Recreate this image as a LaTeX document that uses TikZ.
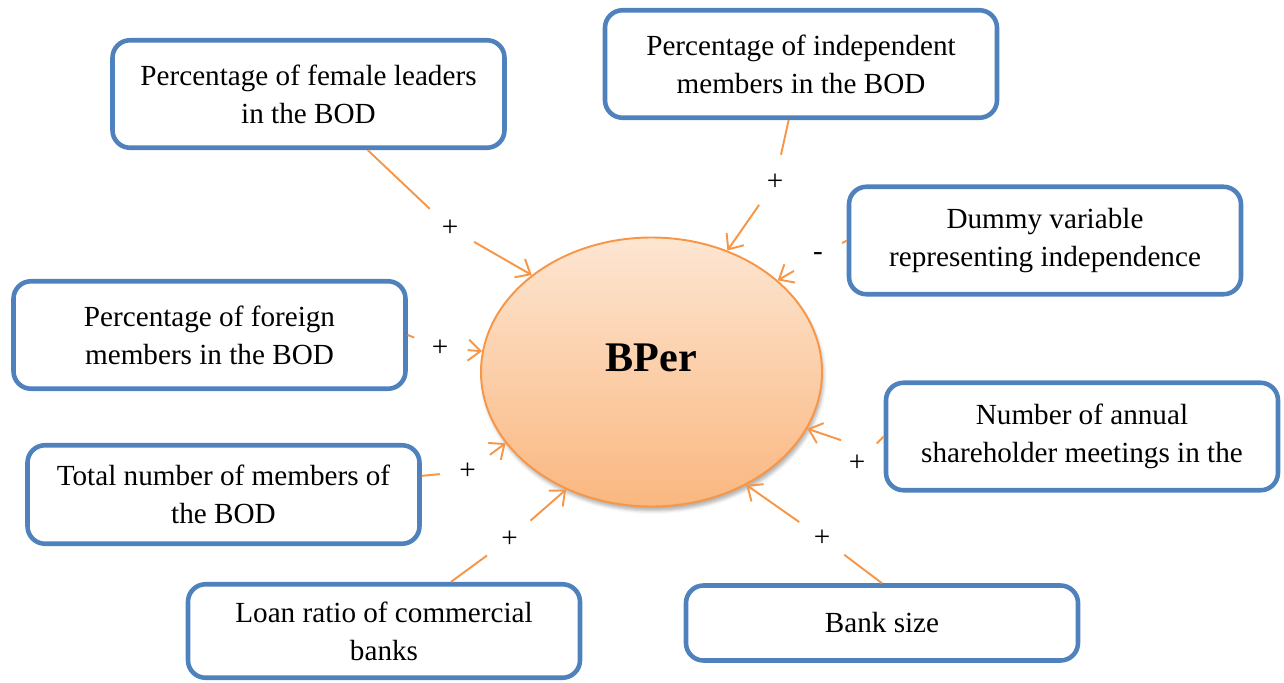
\documentclass[tikz,border=0pt]{standalone}
\usepackage{fontspec}
\setmainfont{Liberation Serif}
\usetikzlibrary{arrows.meta,shapes.geometric,shadows.blur}
\definecolor{boxblue}{HTML}{4F81BD}
\definecolor{linkorange}{HTML}{F79646}
\definecolor{peachtop}{RGB}{253,230,210}
\definecolor{peachbot}{RGB}{250,183,128}

\begin{document}
\begin{tikzpicture}[font=\fontsize{16.6}{21.6}\selectfont,
  factor/.style={draw=boxblue,line width=2.6pt,rounded corners=.35cm,fill=white,align=center,
    minimum width=7.84cm,minimum height=2.15cm,inner sep=2pt},
  sign/.style={circle,minimum size=1.1cm,inner sep=0pt},
  link/.style={linkorange,line width=1.1pt},
  arr/.style={-{Straight Barb[length=7pt,width=12pt]}}]
  \useasboundingbox (0,0) rectangle (25.68,13.64);
  \node[ellipse,draw=linkorange,line width=1.1pt,top color=peachtop,bottom color=peachbot,
    minimum width=6.82cm,minimum height=5.38cm,inner sep=0pt,text depth=16pt,
    font=\fontsize{24}{28}\selectfont\bfseries,
    blur shadow={shadow xshift=1pt,shadow yshift=-2.5pt,shadow opacity=30}] (bper) at (13.03,6.2) {BPer};
  \node[factor] (fem) at (6.17,11.76) {Percentage of female leaders\\in the BOD};
  \node[factor] (ind) at (16.02,12.36) {Percentage of independent\\members in the BOD};
  \node[factor] (dum) at (20.90,8.83) {Dummy variable\\representing independence};
  \node[factor] (frn) at (4.19,6.94) {Percentage of foreign\\members in the BOD};
  \node[factor] (ann) at (21.64,4.91) {Number of annual\\shareholder meetings in the};
  \node[factor,minimum height=1.97cm] (tot) at (4.47,3.75) {Total number of members of\\the BOD};
  \node[factor,minimum height=1.87cm] (loan) at (7.68,1.02) {Loan ratio of commercial\\banks};
  \node[factor,minimum height=1.5cm] (size) at (17.64,1.18) {Bank size};
  \node[sign] (pf) at (9.00,9.08) {+};
  \node[sign] (pi) at (15.50,10.00) {+};
  \node[sign] (pd) at (16.36,8.50) {-};
  \node[sign] (pfr) at (8.80,6.68) {+};
  \node[sign] (pt) at (9.35,4.21) {+};
  \node[sign] (pl) at (10.19,2.86) {+};
  \node[sign] (pa) at (17.14,4.38) {+};
  \node[sign] (ps) at (16.44,2.88) {+};
  \foreach \a/\b in {fem/pf,ind/pi,dum.west/pd,frn.east/pfr,tot/pt,loan/pl,ann.west/pa,size.north/ps}
    \draw[link] (\a) -- (\b);
  \foreach \a/\b in {pf/141,pi/58,pd/36,pfr/173,pt/206,pl/234,pa.125/340,ps/310}
    \draw[link,arr] (\a) -- (bper.\b);
\end{tikzpicture}
\end{document}
